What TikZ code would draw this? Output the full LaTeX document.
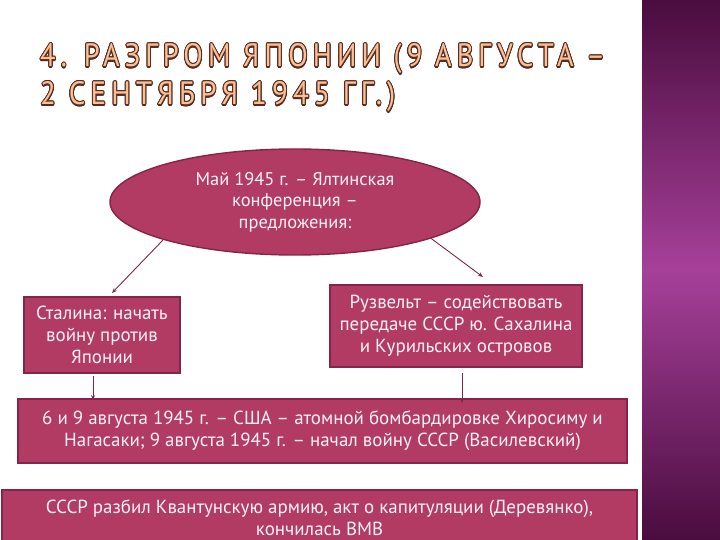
\documentclass[tikz,border=0pt]{standalone}
\usepackage{fontspec}
\setmainfont{PT Sans}
\newfontfamily\titlefont[LetterSpace=18]{PT Sans}
\usepackage{contour}
\contourlength{0.35pt}
\usetikzlibrary{arrows.meta,shapes.geometric,calc}
\definecolor{boxfill}{HTML}{B13B63}
\definecolor{boxline}{HTML}{85244A}
\definecolor{boxtext}{HTML}{FFF2F6}
\definecolor{titlefill}{HTML}{F7C096}
\definecolor{titleline}{HTML}{5A2A1E}
\definecolor{sidetop}{HTML}{4A0C3E}
\definecolor{sidemid}{HTML}{A6409A}
\tikzset{
  box/.style={rectangle, fill=boxfill, draw=boxline, line width=1.6bp,
    text=boxtext, align=center, inner sep=2bp, font=\fontsize{19}{22}\selectfont},
  ellbox/.style={ellipse, fill=boxfill, draw=boxline, line width=1.4bp,
    text=boxtext, align=center, inner sep=0bp, font=\fontsize{18.5}{21.5}\selectfont},
  arr/.style={draw=boxline, line width=0.9bp, -{Stealth[length=5bp,width=4bp]}},
  ttl/.style={anchor=base west, inner sep=0bp}
}
\begin{document}
\begin{tikzpicture}[x=1bp,y=-1bp]
\clip (0,0) rectangle (720,540);
\fill[white] (0,0) rectangle (720,540);
% sidebar
\shade[top color=sidetop, bottom color=sidetop, middle color=sidemid] (642,0) rectangle (720,540);
% title
\node[ttl] (t1) at (40,67) {\resizebox{565bp}{23bp}{\titlefont\contour{titleline}{\textcolor{titlefill}{4. РАЗГРОМ ЯПОНИИ (9 АВГУСТА –}}}};
\node[ttl] (t2) at (40,105) {\resizebox{355bp}{23bp}{\titlefont\contour{titleline}{\textcolor{titlefill}{2 СЕНТЯБРЯ 1945 ГГ.)}}}};
% ellipse
\node[ellbox, minimum width=370bp, minimum height=106bp] (ell) at (295,202)
  {Май 1945 г. – Ялтинская\\конференция –\\предложения:};
% boxes
\node[box, minimum width=156bp, minimum height=76bp] (stalin) at (102,335)
  {Сталина: начать\\войну против\\Японии};
\node[box, minimum width=252bp, minimum height=82bp] (roos) at (456,326)
  {Рузвельт – содействовать\\передаче СССР ю. Сахалина\\и Курильских островов};
\node[box, minimum width=609bp, minimum height=64bp] (mid) at (322.5,431)
  {6 и 9 августа 1945 г. – США – атомной бомбардировке Хиросиму и\\Нагасаки; 9 августа 1945 г. – начал войну СССР (Василевский)};
\node[box, minimum width=635bp, minimum height=56bp] (bot) at (319.5,518)
  {СССР разбил Квантунскую армию, акт о капитуляции (Деревянко),\\кончилась ВМВ};
% connectors
\coordinate (le) at (112,293);
\coordinate (re) at (483,277);
\draw[arr] (ell.196) -- (le);
\draw[arr] (ell.345) -- (re);
\draw[arr] ([xshift=-9bp,yshift=-2bp]stalin.south) -- ([xshift=-9bp,yshift=-2bp]stalin.south |- mid.north);
\draw[arr] ([xshift=6bp,yshift=-5bp]roos.south) -- ([xshift=6bp,yshift=-5bp]roos.south |- mid.north);
\end{tikzpicture}
\end{document}
